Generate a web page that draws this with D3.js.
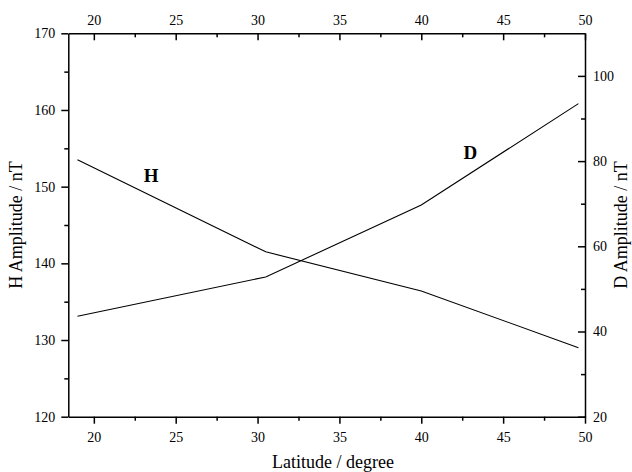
<!DOCTYPE html>
<html>
<head>
<meta charset="utf-8">
<script src="https://cdn.jsdelivr.net/npm/d3@7/dist/d3.min.js"></script>
<style>
  body { margin: 0; background: #fff; }
  svg { display: block; }
  text { font-family: "Liberation Serif", "Times New Roman", serif; fill: #000; }
</style>
</head>
<body>
<svg id="chart" width="632" height="472"></svg>
<script>
// Data
const latitude = [19, 30.5, 40, 49.6];
const hAmplitude = [153.5, 141.5, 136.4, 129.0];
const dAmplitude = [43.6, 52.8, 69.7, 93.5];
const xTicks = [20, 25, 30, 35, 40, 45, 50];
const xMinorTicks = [22.5, 27.5, 32.5, 37.5, 42.5, 47.5];
const hTicks = [120, 130, 140, 150, 160, 170];
const hMinorTicks = [125, 135, 145, 155, 165];
const dTicks = [20, 40, 60, 80, 100];
const dMinorTicks = [30, 50, 70, 90];
const seriesLabels = [{ name: "H", x: 23.5, y: 151.5, axis: "H" }, { name: "D", x: 43.0, y: 82, axis: "D" }];

const svg = d3.select("#chart");
const plot = { left: 68.3, right: 585, top: 33.3, bottom: 416.7 };

const x = d3.scaleLinear().domain([18.44, 50]).range([plot.left, plot.right]);
const yH = d3.scaleLinear().domain([120, 170]).range([plot.bottom, plot.top]);
const yD = d3.scaleLinear().domain([20, 110]).range([plot.bottom, plot.top]);

function styleAxis(g, fontSize) {
  g.selectAll("path").attr("stroke", "#000").attr("stroke-width", 1.5);
  g.selectAll("line").attr("stroke", "#000").attr("stroke-width", 1.5);
  g.selectAll("text").attr("font-family", "Liberation Serif, Times New Roman, serif").attr("font-size", fontSize).attr("fill", "#000");
}

// Bottom axis (ticks outside)
const gB = svg.append("g").attr("transform", `translate(0,${plot.bottom})`)
  .call(d3.axisBottom(x).tickValues(xTicks).tickFormat(d3.format("d")).tickSize(7).tickPadding(8).tickSizeOuter(0));
styleAxis(gB, 14);
const gBm = svg.append("g").attr("transform", `translate(0,${plot.bottom})`)
  .call(d3.axisBottom(x).tickValues(xMinorTicks).tickFormat("").tickSize(4).tickSizeOuter(0));
styleAxis(gBm, 14);
gBm.select("path").remove();

// Top axis (ticks inside)
const gT = svg.append("g").attr("transform", `translate(0,${plot.top})`)
  .call(d3.axisTop(x).tickValues(xTicks).tickFormat(d3.format("d")).tickSize(-7).tickPadding(8).tickSizeOuter(0));
styleAxis(gT, 14);
const gTm = svg.append("g").attr("transform", `translate(0,${plot.top})`)
  .call(d3.axisTop(x).tickValues(xMinorTicks).tickFormat("").tickSize(-4).tickSizeOuter(0));
styleAxis(gTm, 14);
gTm.select("path").remove();

// Left axis (ticks outside)
const gL = svg.append("g").attr("transform", `translate(${plot.left},0)`)
  .call(d3.axisLeft(yH).tickValues(hTicks).tickFormat(d3.format("d")).tickSize(7).tickPadding(6).tickSizeOuter(0));
styleAxis(gL, 14);
const gLm = svg.append("g").attr("transform", `translate(${plot.left},0)`)
  .call(d3.axisLeft(yH).tickValues(hMinorTicks).tickFormat("").tickSize(4).tickSizeOuter(0));
styleAxis(gLm, 14);
gLm.select("path").remove();

// Right axis (ticks inside)
const gR = svg.append("g").attr("transform", `translate(${plot.right},0)`)
  .call(d3.axisRight(yD).tickValues(dTicks).tickFormat(d3.format("d")).tickSize(-7).tickPadding(8).tickSizeOuter(0));
styleAxis(gR, 14);
const gRm = svg.append("g").attr("transform", `translate(${plot.right},0)`)
  .call(d3.axisRight(yD).tickValues(dMinorTicks).tickFormat("").tickSize(-4).tickSizeOuter(0));
styleAxis(gRm, 14);
gRm.select("path").remove();

// Lines
const hData = latitude.map((d, i) => [d, hAmplitude[i]]);
const dData = latitude.map((d, i) => [d, dAmplitude[i]]);
svg.append("path").datum(hData)
  .attr("fill", "none").attr("stroke", "#000").attr("stroke-width", 1.1)
  .attr("d", d3.line().x(d => x(d[0])).y(d => yH(d[1])));
svg.append("path").datum(dData)
  .attr("fill", "none").attr("stroke", "#000").attr("stroke-width", 1.1)
  .attr("d", d3.line().x(d => x(d[0])).y(d => yD(d[1])));

// Series labels
svg.selectAll("text.series").data(seriesLabels).join("text")
  .attr("class", "series")
  .attr("x", d => x(d.x))
  .attr("y", d => (d.axis === "H" ? yH(d.y) : yD(d.y)))
  .attr("text-anchor", "middle")
  .attr("dominant-baseline", "central")
  .attr("font-size", 19).attr("font-weight", "bold")
  .text(d => d.name);

// Axis titles
const midY = (plot.top + plot.bottom) / 2;
svg.append("text").attr("x", 333).attr("y", 468)
  .attr("text-anchor", "middle").attr("font-size", 18).text("Latitude / degree");
svg.append("text").attr("transform", `translate(22,${midY}) rotate(-90)`)
  .attr("text-anchor", "middle").attr("font-size", 18).text("H Amplitude / nT");
svg.append("text").attr("transform", `translate(627,${midY}) rotate(-90)`)
  .attr("text-anchor", "middle").attr("font-size", 18).text("D Amplitude / nT");
</script>
</body>
</html>
